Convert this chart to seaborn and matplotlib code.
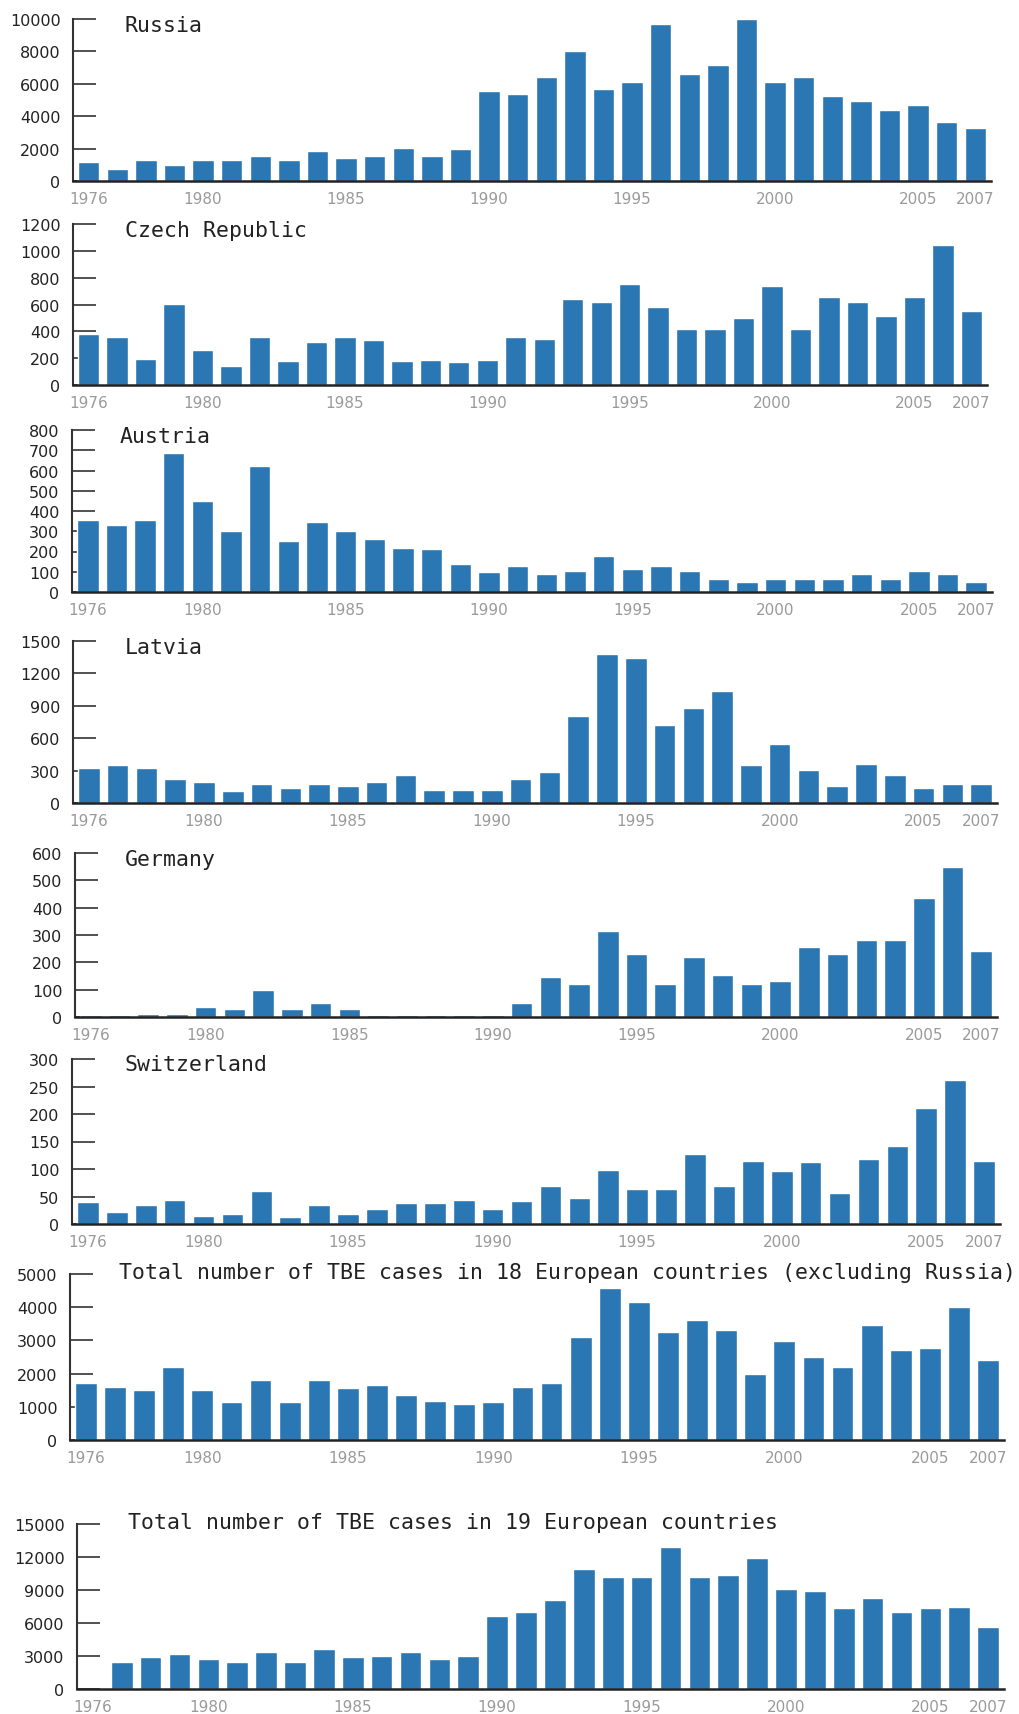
import numpy as np
import pandas as pd
import seaborn as sns
import matplotlib
matplotlib.use("Agg")
import matplotlib.pyplot as plt

# Godine i podaci (broj slucajeva TBE po godinama)
years = list(range(1976, 2008))
year_labels = [1976, 1980, 1985, 1990, 1995, 2000, 2005, 2007]

russia = [1200, 750, 1300, 1000, 1300, 1300, 1550, 1300, 1850, 1400, 1550, 2050, 1550, 1950,
          5550, 5350, 6400, 8000, 5700, 6100, 9700, 6600, 7150, 10000, 6100, 6400, 5250, 4950,
          4400, 4700, 3650, 3250]
czech = [380, 360, 195, 605, 260, 145, 360, 180, 320, 360, 335, 180, 190, 170,
         190, 360, 345, 640, 615, 755, 580, 420, 420, 500, 735, 420, 655, 615, 515, 655, 1040, 550]
austria = [355, 330, 355, 685, 450, 300, 620, 250, 345, 300, 260, 215, 210, 140,
           100, 130, 90, 105, 180, 115, 130, 105, 65, 50, 65, 65, 65, 90, 65, 105, 90, 48]
latvia = [320, 355, 320, 225, 195, 110, 175, 140, 175, 155, 195, 255, 125, 125,
          125, 220, 290, 805, 1380, 1345, 720, 880, 1040, 355, 550, 305, 160, 365, 255, 140, 175, 175]
germany = [7, 7, 12, 12, 37, 30, 100, 30, 50, 30, 6, 6, 6, 6,
           6, 50, 147, 120, 315, 230, 120, 218, 153, 120, 133, 255, 230, 280, 280, 435, 550, 240]
switzerland = [40, 22, 35, 44, 15, 18, 60, 12, 35, 19, 28, 38, 38, 44,
               28, 41, 70, 47, 99, 64, 64, 127, 70, 115, 96, 112, 57, 118, 141, 211, 262, 115]
total18 = [1720, 1610, 1500, 2190, 1500, 1130, 1820, 1130, 1820, 1560, 1670, 1350, 1180, 1075,
           1130, 1610, 1710, 3090, 4580, 4165, 3260, 3620, 3310, 1980, 2990, 2510, 2190, 3460,
           2710, 2770, 4000, 2410]
total19 = [np.nan, 2420, 2880, 3180, 2730, 2420, 3330, 2420, 3670, 2880, 3030, 3330, 2730, 3030,
           6670, 6970, 8120, 10940, 10180, 10180, 12880, 10180, 10330, 11910, 9060, 8910, 7330,
           8270, 7030, 7330, 7480, 5610]

titles = ["Russia", "Czech Republic", "Austria", "Latvia", "Germany", "Switzerland",
          "Total number of TBE cases in 18 European countries (excluding Russia)",
          "Total number of TBE cases in 19 European countries"]
series = [russia, czech, austria, latvia, germany, switzerland, total18, total19]
ymax = [10000, 1200, 800, 1500, 600, 300, 5000, 15000]
ystep = [2000, 200, 100, 300, 100, 50, 1000, 3000]

# raspored panela u pikselima (lijevo, desno, vrh, dno) i pozicija naslova (x, baseline)
W, H = 1019, 1715
boxes = [(73, 991, 20, 182), (73, 987, 225, 386), (72, 992, 431, 593), (73, 997, 642, 804),
         (75, 997, 854, 1018), (72, 1000, 1060, 1225), (70, 1004, 1275, 1441), (77, 1004, 1525, 1690)]
title_pos = [(125, 32), (125, 237), (120, 443), (125, 654), (125, 866), (125, 1071), (119, 1279), (128, 1529)]

bar_color = "#2b77b3"
sns.set_style("white")
plt.rcParams['font.family'] = ['DejaVu Sans']

fig = plt.figure(figsize=(W / 100, H / 100), dpi=100)

for i, vals in enumerate(series):
    l, r, t, b = boxes[i]
    ax = fig.add_axes([l / W, 1 - b / H, (r - l) / W, (b - t) / H])
    df = pd.DataFrame({"year": [str(y) for y in years], "cases": vals})
    sns.barplot(data=df, x="year", y="cases", order=[str(y) for y in years],
                color=bar_color, saturation=1, width=0.75, errorbar=None, ax=ax)
    ax.set_xlim(-0.55, 31.55)
    ax.set_ylim(0, ymax[i])
    ax.set_yticks(np.arange(0, ymax[i] + 1, ystep[i]))
    ax.set_xticks([years.index(y) for y in year_labels])
    ax.set_xticklabels([str(y) for y in year_labels])
    ax.set_xlabel("")
    ax.set_ylabel("")
    ax.set_axisbelow(True)
    for s in ["top", "right"]:
        ax.spines[s].set_visible(False)
    ax.spines["left"].set_color("#333333")
    ax.spines["left"].set_linewidth(1.5)
    ax.spines["bottom"].set_color("#222222")
    ax.spines["bottom"].set_linewidth(1.8)
    ax.tick_params(axis="y", left=True, direction="in", length=16.5, width=1.2, color="#333333",
                   pad=9, labelsize=11.5, labelcolor="#222222")
    ax.tick_params(axis="x", bottom=False, length=0, pad=7, labelsize=11, labelcolor="#9a9a9a")
    tx, ty = title_pos[i]
    fig.text(tx / W, 1 - ty / H, titles[i], family="DejaVu Sans Mono", fontsize=15.5,
             color="#222222", va="baseline", ha="left")

plt.savefig("out.png", dpi=100)
